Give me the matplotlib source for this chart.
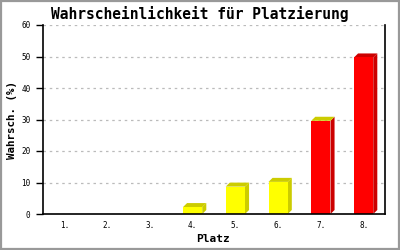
import matplotlib.pyplot as plt
from matplotlib.patches import Polygon, Rectangle

plaetze = ['1.', '2.', '3.', '4.', '5.', '6.', '7.', '8.']
wahrsch = [0, 0, 0, 2.2, 8.7, 10.2, 29.6, 49.7]
front = ['#ffff00'] * 6 + ['#ff0000'] * 2
seite = ['#cccc00'] * 6 + ['#cc0000'] * 2
oben = ['#cccc00'] * 7 + ['#cc0000']

mono = 'DejaVu Sans Mono'

fig = plt.figure(figsize=(4, 2.5), dpi=100)
fig.patch.set_facecolor('white')
# grey frame round the picture
fig.add_artist(Rectangle((0.002, 0.003), 0.995, 0.994, transform=fig.transFigure,
                         fill=False, edgecolor='#999999', linewidth=1.6))

ax = fig.add_axes([0.1075, 0.144, 0.855, 0.756])
ax.set_xlim(0.5, 8.5)
ax.set_ylim(0, 60)

breite = 0.45
dx = 0.095   # depth of the 3d effect (about 4 px)
dy = 1.27

for i, w in enumerate(wahrsch):
    if w <= 0:
        continue
    x0 = i + 1 - breite / 2
    x1 = x0 + breite
    ax.add_patch(Polygon([(x1, 0), (x1 + dx, dy), (x1 + dx, w + dy), (x1, w)],
                         closed=True, facecolor=seite[i], edgecolor='none', zorder=3))
    ax.add_patch(Polygon([(x0, w), (x0 + dx, w + dy), (x1 + dx, w + dy), (x1, w)],
                         closed=True, facecolor=oben[i], edgecolor='none', zorder=3))
    ax.add_patch(Rectangle((x0, 0), breite, w, facecolor=front[i],
                           edgecolor='none', zorder=4))

ax.set_yticks(range(0, 61, 10))
ax.set_xticks(range(1, 9))
ax.set_xticklabels(plaetze)
ax.grid(axis='y', color='#bbbbbb', linestyle=(0, (2, 3)), linewidth=0.9, zorder=0)
ax.tick_params(axis='y', direction='out', length=5, width=1, labelsize=5.5, pad=4)
ax.tick_params(axis='x', length=0, labelsize=5.5, pad=5)
for lab in ax.get_xticklabels() + ax.get_yticklabels():
    lab.set_family(mono)

ax.spines['top'].set_visible(False)
for s in ['left', 'bottom', 'right']:
    ax.spines[s].set_linewidth(1.2)
    ax.spines[s].set_zorder(5)

fig.text(0.5, 1 - 14 / 250, 'Wahrscheinlichkeit für Platzierung', family=mono,
         fontweight='bold', fontsize=10.5, ha='center', va='center')
fig.text(213 / 400, 1 - 239 / 250, 'Platz', family=mono, fontweight='bold',
         fontsize=8, ha='center', va='center')
fig.text(12 / 400, 1 - 120 / 250, 'Wahrsch. (%)', family=mono, fontweight='bold',
         fontsize=7.8, ha='center', va='center', rotation=90)

fig.savefig('out.png', dpi=100)
